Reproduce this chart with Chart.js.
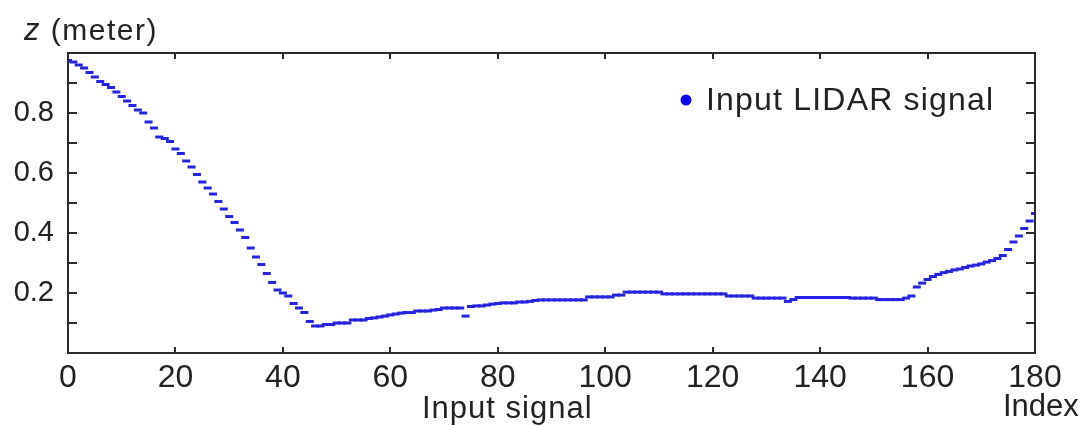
<!DOCTYPE html>
<html>
<head>
<meta charset="utf-8">
<script src="https://cdn.jsdelivr.net/npm/chart.js@4/dist/chart.umd.min.js"></script>
<style>
html,body{margin:0;padding:0;background:#fff;}
#wrap{width:1086px;height:426px;position:relative;}
</style>
</head>
<body>
<div id="wrap"><canvas id="c" width="1086" height="426"></canvas></div>
<script>
// ---- data ----
const indices = [];
for (let i = 0; i <= 180; i++) indices.push(i);
const zValues = [
 0.975,0.97,0.96,0.95,0.935,0.92,0.905,0.895,0.885,0.87,
 0.855,0.84,0.825,0.81,0.80,0.77,0.75,0.72,0.715,0.705,
 0.68,0.665,0.64,0.62,0.595,0.57,0.55,0.53,0.505,0.48,
 0.455,0.435,0.41,0.385,0.35,0.32,0.295,0.265,0.235,0.21,
 0.20,0.19,0.165,0.15,0.135,0.105,0.09,0.09,0.095,0.095,
 0.10,0.10,0.10,0.11,0.11,0.11,0.115,0.117,0.12,0.123,
 0.127,0.13,0.133,0.135,0.135,0.14,0.14,0.14,0.143,0.145,
 0.15,0.15,0.15,0.15,0.123,0.155,0.157,0.157,0.16,0.163,
 0.165,0.167,0.167,0.167,0.17,0.17,0.172,0.175,0.177,0.177,
 0.177,0.177,0.177,0.177,0.177,0.177,0.177,0.187,0.187,0.187,
 0.187,0.187,0.193,0.193,0.203,0.203,0.203,0.203,0.203,0.203,
 0.203,0.197,0.197,0.197,0.197,0.197,0.197,0.197,0.197,0.197,
 0.197,0.197,0.197,0.19,0.19,0.19,0.19,0.19,0.183,0.183,
 0.183,0.183,0.183,0.183,0.172,0.178,0.185,0.185,0.185,0.185,
 0.185,0.185,0.185,0.185,0.185,0.185,0.183,0.183,0.183,0.183,
 0.183,0.178,0.178,0.178,0.178,0.178,0.183,0.19,0.22,0.233,
 0.245,0.255,0.262,0.268,0.272,0.277,0.28,0.285,0.29,0.293,
 0.297,0.303,0.308,0.315,0.325,0.345,0.37,0.39,0.415,0.44,
 0.465
];
const xTickValues = [0,20,40,60,80,100,120,140,160,180];
const yTickValues = [0.1,0.2,0.3,0.4,0.5,0.6,0.7,0.8,0.9];
const yLabelValues = [0.2,0.4,0.6,0.8];
const seriesName = 'Input LIDAR signal';
const xTitle = 'Input signal';
const xEndTitle = 'Index';
const yTitleVar = 'z';
const yTitleUnit = ' (meter)';

const points = indices.map((x, k) => ({x: x, y: zValues[k]}));
const FONT = '"Liberation Sans", Arial, sans-serif';
const BLUE = 'rgb(35,35,225)';

const framePlugin = {
  id: 'frame',
  afterDraw(chart) {
    const {ctx, chartArea: a, scales} = chart;
    const xs = scales.x, ys = scales.y;
    ctx.save();
    ctx.strokeStyle = '#2a2a2a';
    ctx.lineWidth = 2;
    ctx.strokeRect(a.left, a.top, a.right - a.left, a.bottom - a.top);
    ctx.beginPath();
    xTickValues.forEach(v => {
      const px = Math.round(xs.getPixelForValue(v));
      ctx.moveTo(px, a.bottom); ctx.lineTo(px, a.bottom - 6);
      ctx.moveTo(px, a.top); ctx.lineTo(px, a.top + 6);
    });
    yTickValues.forEach(v => {
      const py = Math.round(ys.getPixelForValue(v));
      ctx.moveTo(a.left, py); ctx.lineTo(a.left + 9, py);
      ctx.moveTo(a.right, py); ctx.lineTo(a.right - 9, py);
    });
    ctx.stroke();
    // texts
    ctx.fillStyle = '#222';
    ctx.textBaseline = 'alphabetic';
    ctx.textAlign = 'left';
    ctx.letterSpacing = '1px';
    ctx.font = '31px ' + FONT;
    ctx.fillText(xTitle, 422, 418);
    ctx.letterSpacing = '0px';
    ctx.fillText(xEndTitle, 1003, 416);
    ctx.letterSpacing = '1.5px';
    ctx.font = 'italic 31px ' + FONT;
    ctx.fillText(yTitleVar, 24, 40);
    const w = ctx.measureText(yTitleVar).width;
    ctx.font = '30px ' + FONT;
    ctx.fillText(yTitleUnit, 24 + w, 40);
    // legend
    ctx.letterSpacing = '1.2px';
    ctx.fillStyle = 'rgb(10,10,240)';
    ctx.beginPath();
    ctx.arc(686, 100, 5.5, 0, Math.PI * 2);
    ctx.fill();
    ctx.fillStyle = '#222';
    ctx.font = '32px ' + FONT;
    ctx.fillText(seriesName, 706, 110);
    ctx.restore();
  }
};

new Chart(document.getElementById('c'), {
  type: 'scatter',
  data: {
    datasets: [{
      label: seriesName,
      data: points,
      showLine: false,
      pointStyle: 'line',
      pointRadius: 4,
      pointHoverRadius: 4,
      borderColor: BLUE,
      backgroundColor: BLUE,
      pointBorderWidth: 3
    }]
  },
  options: {
    responsive: false,
    animation: false,
    devicePixelRatio: 1,
    layout: {padding: {top: 53, right: 51, left: 0, bottom: 0}},
    plugins: {legend: {display: false}, tooltip: {enabled: false}},
    scales: {
      x: {
        type: 'linear', min: 0, max: 180,
        afterBuildTicks(s) { s.ticks = xTickValues.map(v => ({value: v})); },
        afterFit(s) { s.height = 73; },
        grid: {display: false, drawTicks: false},
        border: {display: false},
        ticks: {padding: 6, color: '#222', font: {family: FONT, size: 32}, maxRotation: 0, autoSkip: false}
      },
      y: {
        type: 'linear', min: 0, max: 1,
        afterBuildTicks(s) { s.ticks = yLabelValues.map(v => ({value: v})); },
        afterFit(s) { s.width = 68; },
        grid: {display: false, drawTicks: false},
        border: {display: false},
        ticks: {padding: 14, color: '#222', font: {family: FONT, size: 29},
          callback: v => v.toFixed(1)}
      }
    }
  },
  plugins: [framePlugin]
});
</script>
</body>
</html>
